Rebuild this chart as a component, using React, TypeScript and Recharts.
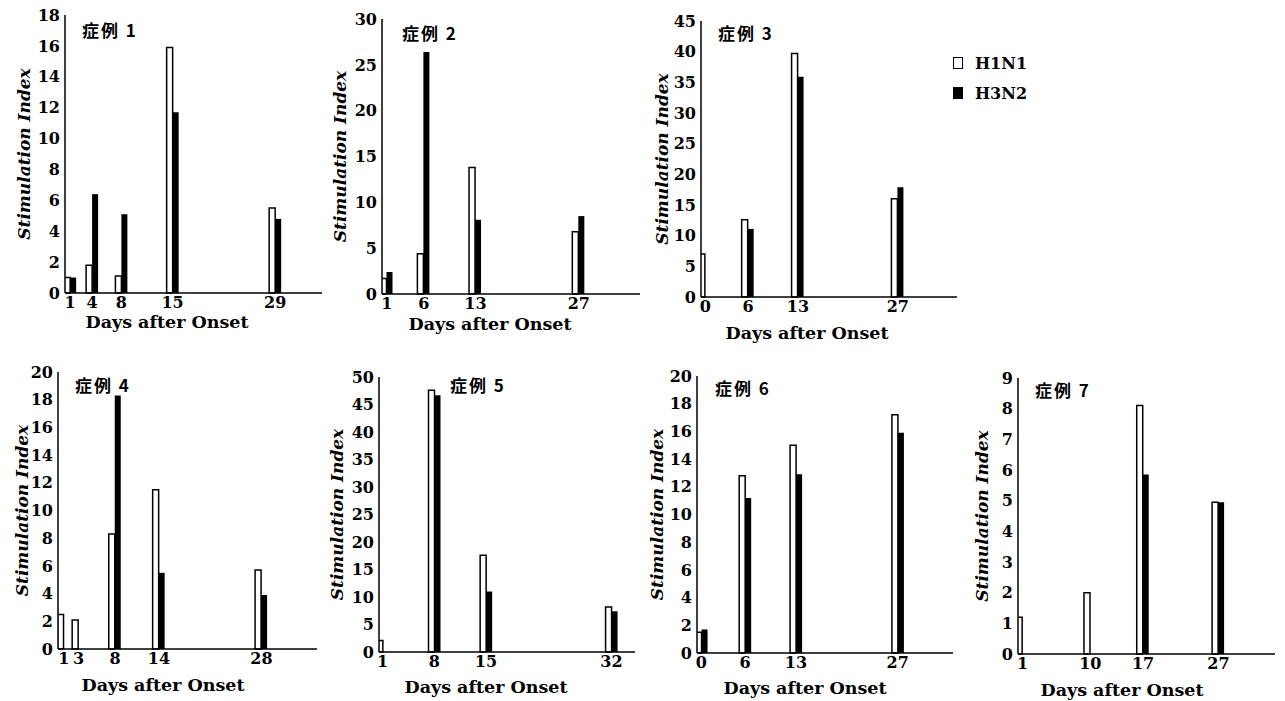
import { BarChart, Bar, XAxis, YAxis, Legend } from 'recharts';

// days after onset and stimulation index per case
const days1 = [1, 4, 8, 15, 29];
const h1n1Case1 = [1.0, 1.8, 1.1, 15.9, 5.5];
const h3n2Case1 = [1.0, 6.4, 5.1, 11.7, 4.8];
const yTicks1 = [0, 2, 4, 6, 8, 10, 12, 14, 16, 18];

const days2 = [1, 6, 13, 27];
const h1n1Case2 = [1.7, 4.4, 13.8, 6.8];
const h3n2Case2 = [2.4, 26.4, 8.1, 8.5];
const yTicks2 = [0, 5, 10, 15, 20, 25, 30];

const days3 = [0, 6, 13, 27];
const h1n1Case3 = [7.0, 12.6, 39.7, 16.0];
const h3n2Case3 = [0, 11.1, 35.9, 17.9];
const yTicks3 = [0, 5, 10, 15, 20, 25, 30, 35, 40, 45];

const days4 = [1, 3, 8, 14, 28];
const h1n1Case4 = [2.5, 2.1, 8.3, 11.5, 5.7];
const h3n2Case4 = [0, 0, 18.3, 5.5, 3.9];
const yTicks4 = [0, 2, 4, 6, 8, 10, 12, 14, 16, 18, 20];

const days5 = [1, 8, 15, 32];
const h1n1Case5 = [2.1, 47.6, 17.6, 8.2];
const h3n2Case5 = [0, 46.7, 11.0, 7.4];
const yTicks5 = [0, 5, 10, 15, 20, 25, 30, 35, 40, 45, 50];

const days6 = [0, 6, 13, 27];
const h1n1Case6 = [1.5, 12.8, 15.0, 17.2];
const h3n2Case6 = [1.7, 11.2, 12.9, 15.9];
const yTicks6 = [0, 2, 4, 6, 8, 10, 12, 14, 16, 18, 20];

const days7 = [1, 10, 17, 27];
const h1n1Case7 = [1.2, 2.0, 8.1, 4.95];
const h3n2Case7 = [0, 0, 5.85, 4.95];
const yTicks7 = [0, 1, 2, 3, 4, 5, 6, 7, 8, 9];

const caseTitles = ['症例 1', '症例 2', '症例 3', '症例 4', '症例 5', '症例 6', '症例 7'];

const SERIF = '"DejaVu Serif", "Liberation Serif", serif';
const CJK = '"Noto Sans CJK JP", "Noto Sans CJK SC", sans-serif';

const legendFill: Record<string, string> = { H1N1: '#fff', H3N2: '#000' };

function rows(days: number[], a: number[], b: number[]) {
  return days.map((d, i) => ({ day: d, H1N1: a[i], H3N2: b[i] }));
}

// panel geometry on the page (axis origin, extent, label offsets)
const layout = [
  { left: 65, top: 15, right: 322, bottom: 293, yMax: 18, xMin: 0.3, xMax: 35.4, tx: 82, ty: 21, xl: 102, xd: 29, yl: -41 },
  { left: 382, top: 19, right: 640, bottom: 294, yMax: 30, xMin: 0.33, xMax: 35.3, tx: 402, ty: 24, xl: 108, xd: 30, yl: -42 },
  { left: 701, top: 21, right: 957, bottom: 297, yMax: 45, xMin: -0.6, xMax: 35.3, tx: 718, ty: 24, xl: 106, xd: 36, yl: -39 },
  { left: 58, top: 372, right: 317, bottom: 649, yMax: 20, xMin: 0.2, xMax: 35.6, tx: 75, ty: 376, xl: 105, xd: 36, yl: -36 },
  { left: 379, top: 377, right: 635, bottom: 652, yMax: 50, xMin: 0.5, xMax: 35.2, tx: 450, ty: 376, xl: 107, xd: 35, yl: -42 },
  { left: 697, top: 376, right: 953, bottom: 653, yMax: 20, xMin: -0.6, xMax: 34.6, tx: 715, ty: 379, xl: 108, xd: 35, yl: -40 },
  { left: 1018, top: 378, right: 1275, bottom: 654, yMax: 9, xMin: 0.4, xMax: 34.5, tx: 1035, ty: 381, xl: 104, xd: 36, yl: -36 },
];

const tickStyle = { fontSize: 16, fontWeight: 'bold', fill: '#000', fontFamily: SERIF };

function XTitle({ px, py }: any) {
  return (
    <text x={px} y={py} textAnchor="middle" dominantBaseline="central"
      style={{ fontFamily: SERIF, fontWeight: 'bold', fontSize: 17.5, fill: '#000' }}>
      Days after Onset
    </text>
  );
}

function YTitle({ px, py }: any) {
  return (
    <text x={px} y={py} textAnchor="middle" dominantBaseline="central" transform={`rotate(-90, ${px}, ${py})`}
      style={{ fontFamily: SERIF, fontWeight: 'bold', fontStyle: 'italic', fontSize: 17, fill: '#000' }}>
      Stimulation Index
    </text>
  );
}

const renderLegend = ({ payload }: any) => (
  <div style={{ fontFamily: SERIF, fontWeight: 'bold', fontSize: 16, color: '#000' }}>
    {(payload || []).map((item: any) => (
      <div key={item.value} style={{ display: 'flex', alignItems: 'center', height: 30 }}>
        <span style={{ display: 'inline-block', width: 8, height: 10, border: '1.5px solid #000', background: legendFill[item.value], marginRight: 12 }} />
        <span>{item.value}</span>
      </div>
    ))}
  </div>
);

function Panel({ idx, data, xTicks, yTicks, legend }: any) {
  const c = layout[idx];
  const plotW = c.right - c.left;
  const plotH = c.bottom - c.top;
  const extraRight = legend ? 90 : 6;
  return (
    <>
      <div style={{ position: 'absolute', left: c.left - 60, top: c.top - 12 }}>
        <BarChart width={60 + plotW + extraRight} height={12 + plotH + 50} data={data}
          margin={{ top: 12, right: extraRight, bottom: 0, left: 0 }} barGap={0}>
          <XAxis type="number" dataKey="day" domain={[c.xMin, c.xMax]} ticks={xTicks} interval={0}
            allowDataOverflow tickLine={false} tickSize={0} tickMargin={4} height={50}
            axisLine={{ stroke: '#000', strokeWidth: 1.5 }} tick={tickStyle}
            label={<XTitle px={60 + c.xl} py={12 + plotH + c.xd} />} />
          <YAxis type="number" domain={[0, c.yMax]} ticks={yTicks} interval={0} width={60}
            tickLine={false} tickSize={0} tickMargin={5}
            axisLine={{ stroke: '#000', strokeWidth: 1.5 }} tick={tickStyle}
            label={<YTitle px={60 + c.yl} py={12 + plotH / 2} />} />
          <Bar dataKey="H1N1" fill="#fff" stroke="#000" strokeWidth={1.5} barSize={6} isAnimationActive={false} />
          <Bar dataKey="H3N2" fill="#000" barSize={6} isAnimationActive={false} />
          {legend && (
            <Legend layout="vertical" align="center" verticalAlign="middle" content={renderLegend}
              wrapperStyle={{ left: 312, top: 39, width: 100 }} />
          )}
        </BarChart>
      </div>
      <div style={{ position: 'absolute', left: c.tx, top: c.ty, fontFamily: CJK, fontWeight: 'bold', fontSize: 17, lineHeight: 1, letterSpacing: 2, color: '#000', whiteSpace: 'nowrap' }}>
        {caseTitles[idx]}
      </div>
    </>
  );
}

export default function App() {
  return (
    <div style={{ position: 'absolute', left: 0, top: 0, width: 1285, height: 701, background: '#fff', overflow: 'hidden' }}>
      <Panel idx={0} data={rows(days1, h1n1Case1, h3n2Case1)} xTicks={days1} yTicks={yTicks1} />
      <Panel idx={1} data={rows(days2, h1n1Case2, h3n2Case2)} xTicks={days2} yTicks={yTicks2} />
      <Panel idx={2} data={rows(days3, h1n1Case3, h3n2Case3)} xTicks={days3} yTicks={yTicks3} legend />
      <Panel idx={3} data={rows(days4, h1n1Case4, h3n2Case4)} xTicks={days4} yTicks={yTicks4} />
      <Panel idx={4} data={rows(days5, h1n1Case5, h3n2Case5)} xTicks={days5} yTicks={yTicks5} />
      <Panel idx={5} data={rows(days6, h1n1Case6, h3n2Case6)} xTicks={days6} yTicks={yTicks6} />
      <Panel idx={6} data={rows(days7, h1n1Case7, h3n2Case7)} xTicks={days7} yTicks={yTicks7} />
    </div>
  );
}
